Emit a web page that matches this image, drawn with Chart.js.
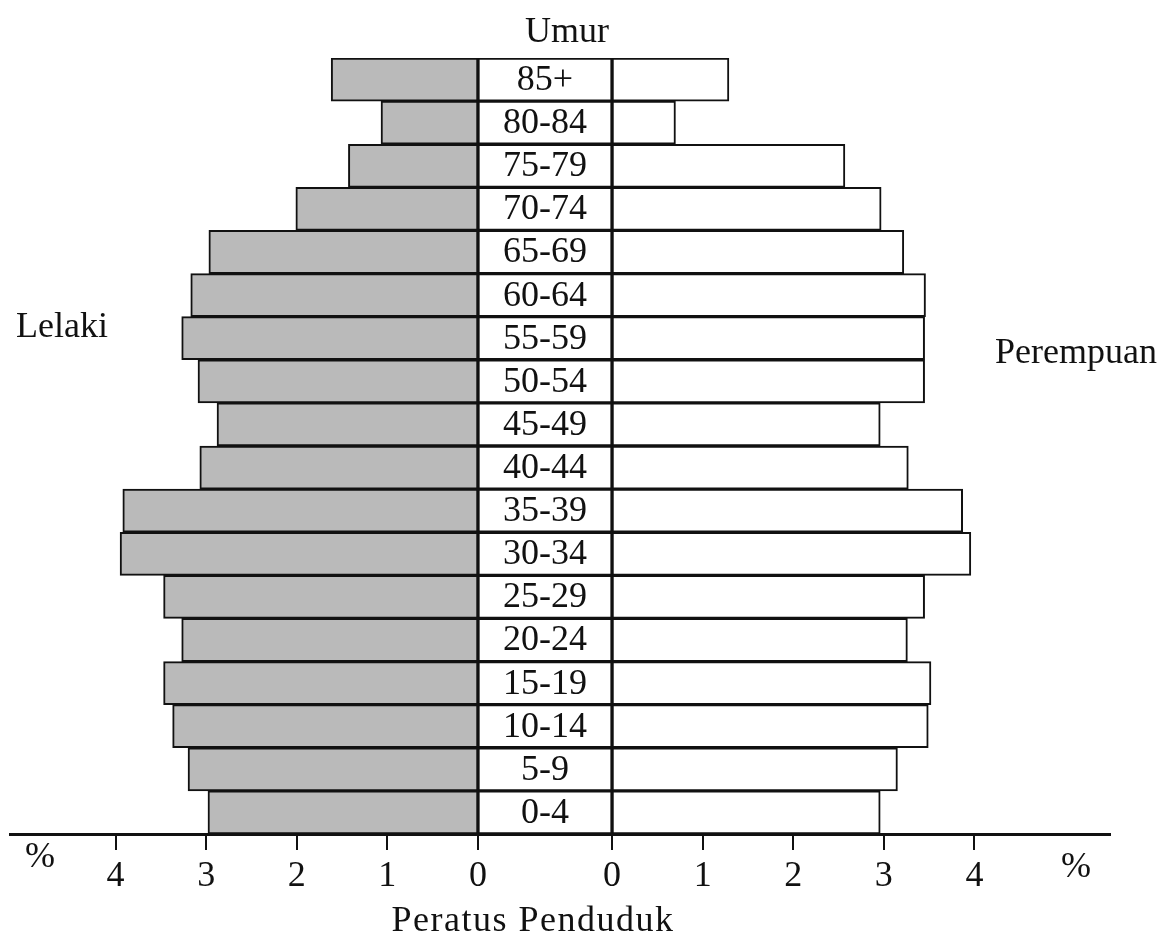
<!DOCTYPE html>
<html lang="ms">
<head>
    <meta charset="UTF-8">
    <title>Piramid Penduduk</title>
    <script src="https://cdn.jsdelivr.net/npm/chart.js@4.4.1/dist/chart.umd.min.js"></script>
    <style>
        html, body { margin: 0; padding: 0; background: #fff; }
        .wrap { width: 1165px; height: 946px; position: relative; }
    </style>
</head>
<body>
    <div class="wrap">
        <canvas id="pyramid"></canvas>
    </div>

    <script>
        // Data (percent of population)
        const ageGroups = ['85+', '80-84', '75-79', '70-74', '65-69', '60-64', '55-59', '50-54', '45-49',
                           '40-44', '35-39', '30-34', '25-29', '20-24', '15-19', '10-14', '5-9', '0-4'];
        const lelaki    = [1.62, 1.07, 1.43, 2.01, 2.97, 3.17, 3.27, 3.09, 2.88,
                           3.07, 3.92, 3.95, 3.47, 3.27, 3.47, 3.37, 3.20, 2.98];
        const perempuan = [1.29, 0.70, 2.57, 2.97, 3.22, 3.46, 3.45, 3.45, 2.96,
                           3.27, 3.87, 3.96, 3.45, 3.26, 3.52, 3.49, 3.15, 2.96];
        const tickPercents = [0, 1, 2, 3, 4];

        // half width of the age column, in axis units
        const GAP = 0.74;
        const AXIS_MIN = -5.905;
        const AXIS_MAX = 6.236;

        const FONT = '"Liberation Serif", "Times New Roman", serif';
        const INK = '#111';

        // Text around the plot + the age labels in the middle column
        const labelsPlugin = {
            id: 'pyramidLabels',
            afterDatasetsDraw(chart) {
                const ctx = chart.ctx;
                const x = chart.scales.x;
                const area = chart.chartArea;
                ctx.save();
                ctx.fillStyle = INK;
                ctx.font = '36px ' + FONT;
                ctx.textAlign = 'center';
                ctx.textBaseline = 'middle';

                const mid = chart.getDatasetMeta(1);
                mid.data.forEach((bar, i) => {
                    ctx.fillText(ageGroups[i], (bar.x + bar.base) / 2, bar.y + 1);
                });

                ctx.textBaseline = 'alphabetic';
                ctx.fillText('Umur', x.getPixelForValue(0) + 22, area.top - 16);

                ctx.textBaseline = 'middle';
                ctx.fillText('Lelaki', 62, 328);
                ctx.fillText('Perempuan', 1076, 354);
                ctx.fillText('%', 40, area.bottom + 24);
                ctx.fillText('%', 1076, area.bottom + 34);

                ctx.letterSpacing = '1.5px';
                ctx.fillText('Peratus Penduduk', x.getPixelForValue(0) - 12, area.bottom + 88);
                ctx.restore();
            }
        };

        new Chart(document.getElementById('pyramid'), {
            type: 'bar',
            data: {
                labels: ageGroups,
                datasets: [{
                    label: 'Lelaki',
                    data: lelaki.map(v => [-GAP - v, -GAP]),
                    backgroundColor: '#bababa'
                }, {
                    label: 'Umur',
                    data: ageGroups.map(() => [-GAP, GAP]),
                    backgroundColor: '#ffffff'
                }, {
                    label: 'Perempuan',
                    data: perempuan.map(v => [GAP, GAP + v]),
                    backgroundColor: '#ffffff'
                }]
            },
            options: {
                indexAxis: 'y',
                responsive: true,
                maintainAspectRatio: false,
                animation: false,
                layout: { padding: { left: 10, right: 55, top: 58, bottom: 42 } },
                datasets: {
                    bar: {
                        grouped: false,
                        categoryPercentage: 1,
                        barPercentage: 1,
                        borderColor: INK,
                        borderWidth: 2,
                        borderSkipped: false
                    }
                },
                plugins: {
                    legend: { display: false },
                    tooltip: { enabled: false }
                },
                scales: {
                    y: { display: false },
                    x: {
                        type: 'linear',
                        min: AXIS_MIN,
                        max: AXIS_MAX,
                        afterBuildTicks: scale => {
                            const left = tickPercents.slice().reverse().map(p => ({ value: -GAP - p }));
                            const right = tickPercents.map(p => ({ value: GAP + p }));
                            scale.ticks = left.concat(right);
                        },
                        ticks: {
                            autoSkip: false,
                            maxRotation: 0,
                            padding: 9,
                            color: INK,
                            font: { family: FONT, size: 36, lineHeight: 1 },
                            callback: value => String(Math.round(Math.abs(value) - GAP))
                        },
                        grid: {
                            drawOnChartArea: false,
                            drawTicks: true,
                            tickLength: 16,
                            color: INK,
                            lineWidth: 2
                        },
                        border: { display: true, color: INK, width: 3 }
                    }
                }
            },
            plugins: [labelsPlugin]
        });
    </script>
</body>
</html>
